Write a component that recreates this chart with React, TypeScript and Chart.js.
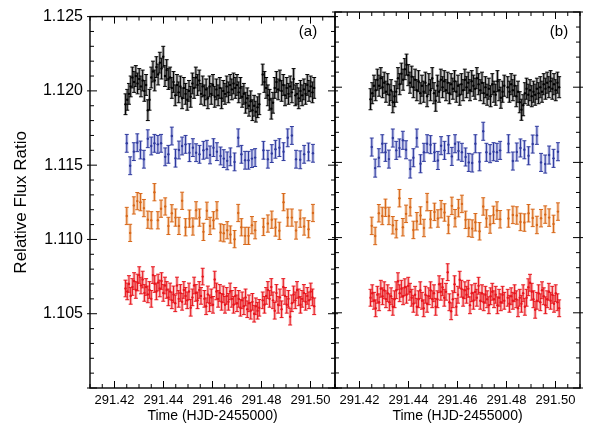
import React, { useEffect, useRef } from "react";
import { Chart, registerables } from "chart.js";

Chart.register(...registerables);

// ---------- axes ----------
const X_MIN = 291.41;
const X_MAX = 291.51;
const Y_MIN = 1.1;
const Y_MAX = 1.125;
const X_TICKS = [291.42, 291.44, 291.46, 291.48, 291.5];
const Y_TICKS = [1.105, 1.11, 1.115, 1.12, 1.125];
const X_TITLE = "Time (HJD-2455000)";
const Y_TITLE = "Relative Flux Ratio";
const PANEL_LABELS = ["(a)", "(b)"];

// ---------- times ----------
const FAST_TIMES = [
  291.4245, 291.4252, 291.4259, 291.4266, 291.4273, 291.428, 291.4287, 291.4294, 291.4301, 291.4308,
  291.4315, 291.4322, 291.4329, 291.4336, 291.4343, 291.435, 291.4357, 291.4364, 291.4371, 291.4378,
  291.4385, 291.4392, 291.4399, 291.4406, 291.4413, 291.442, 291.4427, 291.4434, 291.4441, 291.4448,
  291.4455, 291.4462, 291.4469, 291.4476, 291.4483, 291.449, 291.4497, 291.4504, 291.4511, 291.4518,
  291.4525, 291.4532, 291.4539, 291.4546, 291.4553, 291.456, 291.4567, 291.4574, 291.4581, 291.4588,
  291.4595, 291.4602, 291.4609, 291.4616, 291.4623, 291.463, 291.4637, 291.4644, 291.4651, 291.4658,
  291.4665, 291.4672, 291.4679, 291.4686, 291.4693, 291.47, 291.4707, 291.4714, 291.4721, 291.4728,
  291.4735, 291.4742, 291.4749, 291.4756, 291.4763, 291.477, 291.4777, 291.4784, 291.4791,
  291.4805, 291.4812, 291.4819, 291.4826, 291.4833, 291.484, 291.4847, 291.4854, 291.4861, 291.4868,
  291.4875, 291.4882, 291.4889, 291.4896, 291.4903, 291.491, 291.4917, 291.4924, 291.4931, 291.4938,
  291.4945, 291.4952, 291.4959, 291.4966, 291.4973, 291.498, 291.4987, 291.4994, 291.5001, 291.5008, 291.5015,
];

const SLOW_TIMES = [
  291.425, 291.4264, 291.4279, 291.4293, 291.4306, 291.432, 291.4336, 291.435, 291.4363, 291.4377,
  291.439, 291.4407, 291.442, 291.4434, 291.4449, 291.4463, 291.4476, 291.449, 291.4506, 291.452,
  291.4533, 291.4547, 291.4563, 291.4577, 291.459, 291.4604, 291.4618, 291.4633, 291.4646, 291.466,
  291.4673, 291.469, 291.4705, 291.4718, 291.4733, 291.4747, 291.4761, 291.4774,
  291.4808, 291.4826, 291.4842, 291.4857, 291.4873, 291.489, 291.4907, 291.4924, 291.4941, 291.4958,
  291.4974, 291.4992, 291.501,
];

// ---------- panel (a) ----------
const BLACK_A = [
  1.1191, 1.1194, 1.1198, 1.1203, 1.1209, 1.1206, 1.121, 1.1205, 1.1208, 1.1203,
  1.1207, 1.12, 1.1204, 1.1187, 1.1194, 1.1209, 1.1213, 1.1207, 1.1216, 1.1211,
  1.1219, 1.1215, 1.1223, 1.121, 1.1214, 1.1208, 1.1209, 1.1202, 1.1206, 1.1197,
  1.1204, 1.1199, 1.1203, 1.1195, 1.1202, 1.1198, 1.1194, 1.12, 1.1196, 1.1205,
  1.1202, 1.1209, 1.1204, 1.1207, 1.1198, 1.1203, 1.1197, 1.1201, 1.1195, 1.1203,
  1.1198, 1.1204, 1.1196, 1.1201, 1.1197, 1.1202, 1.1195, 1.12, 1.1198, 1.1203,
  1.1199, 1.1204, 1.1201, 1.1205, 1.1202, 1.1204, 1.1199, 1.1202, 1.1196, 1.1198,
  1.1192, 1.1195, 1.119, 1.1193, 1.1187, 1.119, 1.1186, 1.1189, 1.1191,
  1.1211, 1.1206, 1.1202, 1.1197, 1.1194, 1.1188, 1.1192, 1.1202, 1.1206, 1.1201,
  1.1207, 1.12, 1.1204, 1.1197, 1.1202, 1.1198, 1.1203, 1.1199, 1.1208, 1.1197,
  1.1198, 1.1195, 1.12, 1.1197, 1.1201, 1.1198, 1.1204, 1.12, 1.1203, 1.1199, 1.1202,
];
const BLUE_A = [
  1.11647, 1.11496, 1.11591, 1.11651, 1.11602, 1.1154, 1.11678, 1.11629, 1.11647, 1.1164,
  1.11647, 1.11556, 1.11573, 1.11696, 1.11547, 1.11602, 1.11629, 1.1164, 1.11584, 1.11618,
  1.11584, 1.11573, 1.116, 1.11607, 1.11569, 1.11618, 1.11591, 1.11562, 1.11544, 1.11529,
  1.11556, 1.11522, 1.11684, 1.11573, 1.11533, 1.11533, 1.11544, 1.11551,
  1.116, 1.1154, 1.11578, 1.11607, 1.11618, 1.11591, 1.11684, 1.117, 1.1154, 1.11536,
  1.11573, 1.11589, 1.1158,
];
const ORANGE_A = [
  1.11158, 1.11044, 1.11229, 1.11258, 1.11251, 1.11211, 1.11133, 1.11129, 1.11318, 1.11129,
  1.11207, 1.11222, 1.11091, 1.11176, 1.11147, 1.11091, 1.1126, 1.11082, 1.1114, 1.11087,
  1.11196, 1.11147, 1.11051, 1.11193, 1.11091, 1.11129, 1.11196, 1.11047, 1.11042, 1.11062,
  1.11033, 1.11002, 1.11178, 1.11082, 1.11024, 1.11024, 1.11096, 1.11062,
  1.11084, 1.11107, 1.11133, 1.1108, 1.11058, 1.11251, 1.11147, 1.11147, 1.1106, 1.1114,
  1.11087, 1.11069, 1.11178,
];
const RED_A = [
  1.1067, 1.1065, 1.107, 1.1062, 1.1068, 1.1072, 1.1066, 1.1071, 1.1076, 1.1069,
  1.1073, 1.1064, 1.1068, 1.1063, 1.1066, 1.106, 1.1076, 1.107, 1.1065, 1.1071,
  1.1067, 1.1072, 1.1064, 1.1069, 1.1066, 1.1061, 1.1065, 1.1059, 1.1063, 1.1057,
  1.1069, 1.106, 1.1064, 1.1058, 1.1066, 1.1062, 1.1059, 1.1065, 1.1054, 1.1061,
  1.1069, 1.1064, 1.1059, 1.1066, 1.1062, 1.1075, 1.106, 1.1055, 1.1063, 1.1057,
  1.1061, 1.1056, 1.1073, 1.1065, 1.106, 1.1064, 1.1058, 1.1063, 1.1056, 1.1062,
  1.1058, 1.1065, 1.106, 1.1056, 1.1062, 1.1057, 1.106, 1.1054, 1.1059, 1.1055,
  1.1061, 1.1053, 1.1057, 1.1052, 1.1058, 1.105, 1.1055, 1.1052, 1.1054,
  1.1059, 1.1056, 1.1062, 1.1066, 1.106, 1.1068, 1.1059, 1.1052, 1.1064, 1.1056,
  1.1061, 1.1053, 1.1068, 1.1062, 1.1056, 1.106, 1.1048, 1.1057, 1.1063, 1.1059,
  1.1066, 1.1061, 1.1056, 1.106, 1.1064, 1.1058, 1.1062, 1.1059, 1.1065, 1.1061, 1.1055,
];

// ---------- panel (b) ----------
const BLACK_B = [
  1.1192, 1.1196, 1.1201, 1.1198, 1.1205, 1.1201, 1.1206, 1.12, 1.1203, 1.1197,
  1.1202, 1.1195, 1.1198, 1.119, 1.1194, 1.1197, 1.1206, 1.1202, 1.1209, 1.1205,
  1.1212, 1.1215, 1.1208, 1.1203, 1.1207, 1.12, 1.1205, 1.1198, 1.1204, 1.1196,
  1.1201, 1.1197, 1.1203, 1.1194, 1.1202, 1.1198, 1.1206, 1.1196, 1.1191, 1.1201,
  1.1197, 1.1205, 1.12, 1.1204, 1.1198, 1.1203, 1.1196, 1.1202, 1.1199, 1.1204,
  1.1197, 1.1201, 1.1195, 1.1202, 1.1198, 1.1205, 1.12, 1.1203, 1.1198, 1.1204,
  1.1201, 1.1199, 1.1206, 1.1202, 1.1198, 1.1203, 1.1196, 1.12, 1.1195, 1.1199,
  1.1194, 1.1202, 1.1197, 1.1195, 1.1204, 1.1198, 1.1193, 1.1197, 1.1201,
  1.12, 1.1197, 1.1202, 1.1198, 1.1201, 1.1194, 1.1197, 1.119, 1.1185, 1.1188,
  1.1196, 1.1199, 1.1195, 1.1198, 1.1194, 1.1197, 1.1195, 1.1199, 1.1196, 1.12,
  1.1197, 1.1202, 1.1199, 1.1203, 1.12, 1.1204, 1.1199, 1.1202, 1.1198, 1.1203, 1.12,
];
const BLUE_B = [
  1.11602, 1.11462, 1.11531, 1.11624, 1.11567, 1.11522, 1.11662, 1.1158, 1.11596, 1.11647,
  1.11584, 1.11456, 1.11531, 1.11662, 1.11491, 1.11567, 1.11624, 1.11618, 1.11567, 1.11513,
  1.11611, 1.1158, 1.11618, 1.1154, 1.11624, 1.11576, 1.11567, 1.11536, 1.115, 1.11496,
  1.11624, 1.11504, 1.11707, 1.11567, 1.11558, 1.11571, 1.11567, 1.1158,
  1.11624, 1.11509, 1.11569, 1.11596, 1.11584, 1.11544, 1.11622, 1.1168, 1.115, 1.11489,
  1.11549, 1.11527, 1.11571,
];
const ORANGE_B = [
  1.11078, 1.11011, 1.11162, 1.11144, 1.11198, 1.11144, 1.11082, 1.11056, 1.11262, 1.11069,
  1.11158, 1.11202, 1.11051, 1.11109, 1.11147, 1.11064, 1.11236, 1.11122, 1.11171, 1.11127,
  1.11189, 1.11167, 1.11084, 1.11211, 1.11129, 1.11196, 1.11224, 1.11118, 1.11064, 1.1106,
  1.11102, 1.11042, 1.11207, 1.11127, 1.11087, 1.11151, 1.1118, 1.11122,
  1.11127, 1.11151, 1.11147, 1.11104, 1.111, 1.11162, 1.11131, 1.11084, 1.11129, 1.11153,
  1.11133, 1.11091, 1.11173,
];
const RED_B = [
  1.106, 1.1063, 1.1058, 1.1053, 1.1062, 1.1057, 1.1066, 1.1061, 1.1065, 1.1059,
  1.1063, 1.1057, 1.1061, 1.1054, 1.1059, 1.1065, 1.1071, 1.1063, 1.1066, 1.1061,
  1.1067, 1.1062, 1.1068, 1.1064, 1.106, 1.1056, 1.1062, 1.1054, 1.1059, 1.1065,
  1.1058, 1.1053, 1.1062, 1.1056, 1.1061, 1.1065, 1.1059, 1.1063, 1.1054, 1.1059,
  1.1069, 1.1064, 1.1067, 1.106, 1.1064, 1.1077, 1.1057, 1.1051, 1.1059, 1.1069,
  1.1054, 1.1062, 1.1072, 1.1066, 1.106, 1.1065, 1.1062, 1.1066, 1.1055, 1.1063,
  1.1058, 1.1064, 1.106, 1.1068, 1.1058, 1.1063, 1.1057, 1.1062, 1.1059, 1.1055,
  1.1061, 1.1064, 1.1059, 1.1062, 1.1055, 1.106, 1.1057, 1.1062, 1.1058,
  1.106, 1.1056, 1.1061, 1.1058, 1.1063, 1.1059, 1.1053, 1.106, 1.1056, 1.1063,
  1.1054, 1.106, 1.1067, 1.107, 1.1064, 1.1059, 1.1052, 1.1058, 1.1063, 1.1057,
  1.1065, 1.1061, 1.1055, 1.1059, 1.1064, 1.1058, 1.1062, 1.1056, 1.1063, 1.1057, 1.1053,
];

// ---------- error half-widths ----------
const BLACK_ERR = 0.0007;
const BLUE_ERR = 0.0006;
const ORANGE_ERR = 0.00058;
const RED_ERR = 0.00056;

const FONT = "'Liberation Sans', Arial, Helvetica, sans-serif";

type Series = { times: number[]; values: number[]; err: number; line: string; fill: string };

const errorBarPlugin = {
  id: "errorBars",
  beforeDatasetsDraw(chart: any, _a: any, opts: any) {
    const ctx = chart.ctx;
    const xs = chart.scales.x;
    const ys = chart.scales.y;
    (opts.series || []).forEach((s: Series) => {
      ctx.save();
      s.times.forEach((t, i) => {
        const v = s.values[i];
        const px = xs.getPixelForValue(t);
        const y1 = ys.getPixelForValue(v + s.err);
        const y2 = ys.getPixelForValue(v - s.err);
        ctx.fillStyle = s.fill;
        ctx.fillRect(px - 1.5, y1, 3, y2 - y1);
        ctx.strokeStyle = s.line;
        ctx.lineWidth = 1;
        ctx.beginPath();
        ctx.moveTo(px, y1);
        ctx.lineTo(px, y2);
        ctx.moveTo(px - 2, y1);
        ctx.lineTo(px + 2, y1);
        ctx.moveTo(px - 2, y2);
        ctx.lineTo(px + 2, y2);
        ctx.stroke();
      });
      ctx.restore();
    });
  },
};

const framePlugin = {
  id: "frame",
  afterDraw(chart: any, _a: any, opts: any) {
    const ctx = chart.ctx;
    const { left, right, top, bottom } = chart.chartArea;
    const xs = chart.scales.x;
    const ys = chart.scales.y;
    ctx.save();
    ctx.strokeStyle = "#000";
    ctx.lineWidth = 1.4;
    ctx.strokeRect(left, top, right - left, bottom - top);
    ctx.lineWidth = 1;
    ctx.beginPath();
    for (let i = 0; i <= 20; i++) {
      const v = X_MIN + i * 0.005;
      const px = xs.getPixelForValue(v);
      const major = X_TICKS.some((m) => Math.abs(m - v) < 1e-6);
      const len = major ? 7 : 4;
      ctx.moveTo(px, bottom);
      ctx.lineTo(px, bottom - len);
      ctx.moveTo(px, top);
      ctx.lineTo(px, top + len);
    }
    for (let i = 0; i <= 25; i++) {
      const v = Y_MIN + i * 0.001;
      const py = ys.getPixelForValue(v);
      const major = i % 5 === 0;
      const inLen = major ? 7 : 4;
      const outLen = major ? 3 : 0;
      ctx.moveTo(left - outLen, py);
      ctx.lineTo(left + inLen, py);
      ctx.moveTo(right + outLen, py);
      ctx.lineTo(right - inLen, py);
    }
    ctx.stroke();
    ctx.fillStyle = "#000";
    ctx.font = `15px ${FONT}`;
    ctx.textAlign = "center";
    ctx.textBaseline = "middle";
    ctx.fillText(opts.label, right - opts.labelOffset, 32);
    ctx.restore();
  },
};

type PanelProps = {
  left: number;
  width: number;
  padLeft: number;
  padRight: number;
  showY: boolean;
  label: string;
  labelOffset: number;
  series: Series[];
};

function Panel(p: PanelProps) {
  const ref = useRef<HTMLCanvasElement>(null);
  useEffect(() => {
    if (!ref.current) return;
    const datasets = p.series.map((s) => ({
      data: s.times.map((t, i) => ({ x: t, y: s.values[i] })),
      pointRadius: 1.2,
      pointBorderWidth: 0,
      pointBackgroundColor: s.line,
      showLine: false,
    }));
    const chart = new Chart(ref.current, {
      type: "scatter",
      data: { datasets },
      plugins: [errorBarPlugin, framePlugin],
      options: {
        animation: false,
        responsive: false,
        maintainAspectRatio: false,
        layout: { padding: { top: 12, left: p.padLeft, right: p.padRight, bottom: 0 } },
        plugins: {
          legend: { display: false },
          tooltip: { enabled: false },
          errorBars: { series: p.series },
          frame: { label: p.label, labelOffset: p.labelOffset },
        } as any,
        scales: {
          x: {
            type: "linear",
            min: X_MIN,
            max: X_MAX,
            afterBuildTicks: (s: any) => {
              s.ticks = X_TICKS.map((v) => ({ value: v }));
            },
            afterFit: (s: any) => {
              s.height = 36;
            },
            grid: { display: false, drawTicks: false },
            border: { display: false },
            ticks: {
              callback: (v: any) => Number(v).toFixed(2),
              font: { size: 13, family: FONT },
              color: "#000",
              padding: 5,
              maxRotation: 0,
              autoSkip: false,
            },
            title: {
              display: true,
              text: X_TITLE,
              font: { size: 14, family: FONT },
              color: "#000",
              padding: { top: 0, bottom: -1 },
            },
          },
          y: {
            type: "linear",
            min: Y_MIN,
            max: Y_MAX,
            display: p.showY,
            afterBuildTicks: (s: any) => {
              s.ticks = Y_TICKS.map((v) => ({ value: v }));
            },
            afterFit: (s: any) => {
              s.width = p.showY ? 90 : 0;
            },
            grid: { display: false, drawTicks: false },
            border: { display: false },
            ticks: {
              callback: (v: any) => Number(v).toFixed(3),
              font: { size: 16, family: FONT },
              color: "#000",
              padding: 7,
            },
            title: {
              display: true,
              text: Y_TITLE,
              font: { size: 17, family: FONT },
              color: "#000",
              padding: { top: 11, bottom: 0 },
            },
          },
        } as any,
      },
    } as any);
    return () => chart.destroy();
  }, []);
  return (
    <canvas
      ref={ref}
      width={p.width}
      height={424}
      style={{ position: "absolute", left: p.left, top: 0, width: p.width, height: 424, display: "block" }}
    />
  );
}

export default function App() {
  const seriesA: Series[] = [
    { times: FAST_TIMES, values: BLACK_A, err: BLACK_ERR, line: "#000000", fill: "rgba(90,90,90,0.55)" },
    { times: SLOW_TIMES, values: BLUE_A, err: BLUE_ERR, line: "#2f3a9e", fill: "rgba(120,130,210,0.5)" },
    { times: SLOW_TIMES, values: ORANGE_A, err: ORANGE_ERR, line: "#d8681a", fill: "rgba(235,160,100,0.55)" },
    { times: FAST_TIMES, values: RED_A, err: RED_ERR, line: "#e8141c", fill: "rgba(240,110,110,0.5)" },
  ];
  const seriesB: Series[] = [
    { times: FAST_TIMES, values: BLACK_B, err: BLACK_ERR, line: "#000000", fill: "rgba(90,90,90,0.55)" },
    { times: SLOW_TIMES, values: BLUE_B, err: BLUE_ERR, line: "#2f3a9e", fill: "rgba(120,130,210,0.5)" },
    { times: SLOW_TIMES, values: ORANGE_B, err: ORANGE_ERR, line: "#d8681a", fill: "rgba(235,160,100,0.55)" },
    { times: FAST_TIMES, values: RED_B, err: RED_ERR, line: "#e8141c", fill: "rgba(240,110,110,0.5)" },
  ];
  return (
    <div style={{ position: "absolute", left: 0, top: 0, width: 589, height: 424, background: "#fff" }}>
      <Panel left={0} width={340} padLeft={0} padRight={5} showY={true} label={PANEL_LABELS[0]} labelOffset={27} series={seriesA} />
      <Panel left={330} width={259} padLeft={5} padRight={9} showY={false} label={PANEL_LABELS[1]} labelOffset={21} series={seriesB} />
    </div>
  );
}
